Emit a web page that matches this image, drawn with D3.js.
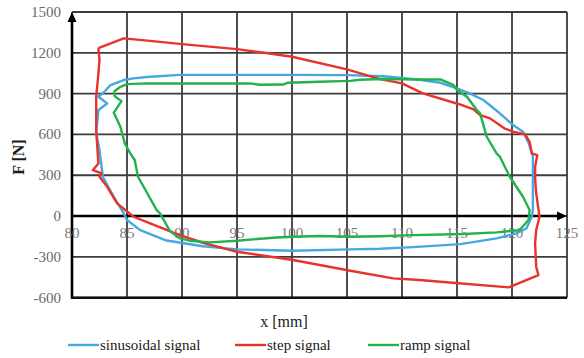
<!DOCTYPE html>
<html><head><meta charset="utf-8">
<script src="https://cdn.jsdelivr.net/npm/d3@7"></script>
<style>body{margin:0;background:#fff}svg{display:block}</style>
</head><body>
<svg id="c" width="584" height="358"></svg>
<script>
const xTicks = [80,85,90,95,100,105,110,115,120,125];
const yTicks = [-600,-300,0,300,600,900,1200,1500];
const seriesNames = ["sinusoidal signal","step signal","ramp signal"];
const seriesColors = ["#45a8e0","#e8322c","#22b24c"];

const sinX = [82.2,82.4,83.2,82.4,82.9,83.5,84.7,85.6,86.8,89.8,95,100,105,108.3,111.6,113.5,115.1,116.2,117.4,118.9,120.1,121,121.5,121.9,121.9,121.9,121.9,121.8,121.3,120.4,118.6,115.3,111,108,105.3,100.1,95,91.9,88.6,86.2,85,84.7,83.8,82.8,82.5,82.2];
const sinF = [608,780,828,877,910,963,1000,1012,1022,1038,1038,1038,1036,1028,1002,980,935,900,853,755,669,620,540,436,265,130,44,-5,-91,-127,-164,-206,-228,-240,-245,-255,-245,-222,-180,-103,-29,20,142,289,485,608];

const stepX = [82.4,84.7,87.1,90,95,97.5,100,105,108,110,111.9,115.2,116.5,117.1,118,119.3,120.1,121.2,121.6,121.8,122.3,122.1,122.1,122.2,122.5,122.2,122.1,122.2,122.4,119.7,113.5,111.6,109.2,105.3,100.1,95,94.4,91.9,89.8,87.1,85.6,84.1,83.2,82.5,82.7,81.9,82.4,82.2,82.2,82.4,82.5,82.4];
const stepF = [1235,1306,1288,1264,1227,1200,1171,1078,1007,975,902,822,784,742,718,645,620,600,546,461,448,362,277,167,-5,-103,-200,-372,-434,-524,-483,-470,-458,-402,-323,-262,-250,-196,-140,-54,-5,93,215,289,314,338,387,632,877,1049,1147,1235];

const rampX = [83.8,84.4,85,86.8,90,96.2,97.1,99.2,99.6,102.5,105.3,106.2,108.3,111.6,113.5,114.7,115,115.9,116.8,117.1,117.7,118.6,118.9,119.8,121,121.6,121.5,120.7,118.6,115.6,111,108,105.3,102.5,100.1,98.6,95,92.5,90.7,89.8,88.9,88,87.7,86,85.7,85.3,84.8,84.4,83.8,84.5,83.9,83.8];
const rampF = [914,950,970,975,975,975,965,967,980,987,994,1002,1008,1004,1005,963,926,877,779,755,583,461,436,289,142,44,-29,-103,-120,-132,-140,-148,-152,-147,-152,-157,-181,-193,-181,-164,-110,20,44,289,412,461,534,656,760,845,880,914];

const svg = d3.select("#c");
const x = d3.scaleLinear().domain([80,125]).range([72,567]);
const y = d3.scaleLinear().domain([-600,1500]).range([297.7,12]);

// grid
svg.append("g").selectAll("line").data(xTicks).join("line")
  .attr("x1",d=>x(d)).attr("x2",d=>x(d)).attr("y1",y(1500)).attr("y2",y(-600))
  .attr("stroke","#3c3c3c").attr("stroke-width",1.8);
svg.append("g").selectAll("line").data(yTicks).join("line")
  .attr("x1",x(80)).attr("x2",x(125)).attr("y1",d=>y(d)).attr("y2",d=>y(d))
  .attr("stroke","#3c3c3c").attr("stroke-width",1.8);

// axes
svg.append("line").attr("x1",x(80)).attr("x2",x(80)).attr("y1",y(-600)+1).attr("y2",y(1500)+6)
  .attr("stroke","#000").attr("stroke-width",2.6);
svg.append("line").attr("x1",x(80)-1).attr("x2",x(125)-6).attr("y1",y(0)).attr("y2",y(0))
  .attr("stroke","#000").attr("stroke-width",2.6);
svg.append("line").attr("x1",x(80)-1).attr("x2",x(125)).attr("y1",y(-600)).attr("y2",y(-600))
  .attr("stroke","#111").attr("stroke-width",2.4);
svg.append("path").attr("d",`M${x(80)},${y(1500)} l-4.5,10 l9,0 z`).attr("fill","#000");
svg.append("path").attr("d",`M${x(125)},${y(0)} l-10,-4.5 l0,9 z`).attr("fill","#000");

// tick labels
svg.append("g").selectAll("text").data(yTicks).join("text")
  .attr("x",61).attr("y",d=>y(d)+5).attr("text-anchor","end")
  .attr("font-family","Liberation Serif").attr("font-size",15).attr("fill","#6a6a6a")
  .text(d=>d);
svg.append("g").selectAll("text").data(xTicks).join("text")
  .attr("x",d=>x(d)).attr("y",y(0)+22).attr("text-anchor","middle")
  .attr("font-family","Liberation Serif").attr("font-size",15).attr("fill","#7a7a7a")
  .text(d=>d);

// series
const line = d3.line().x(d=>x(d[0])).y(d=>y(d[1]));
const series = [[sinX,sinF],[stepX,stepF],[rampX,rampF]];
series.forEach((s,i)=>{
  svg.append("path").datum(d3.zip(s[0],s[1])).attr("d",line)
    .attr("fill","none").attr("stroke",seriesColors[i]).attr("stroke-width",2.4)
    .attr("stroke-linejoin","round");
});

// axis titles
svg.append("text").attr("x",284).attr("y",327).attr("text-anchor","middle")
  .attr("font-family","Liberation Serif").attr("font-size",16).attr("fill","#1a1a1a").text("x [mm]");
svg.append("text").attr("transform","translate(24,157) rotate(-90)").attr("text-anchor","middle")
  .attr("font-family","Liberation Serif").attr("font-size",16).attr("font-weight","bold").attr("fill","#1a1a1a").text("F [N]");

// legend
const legX = [68,235,368];
seriesNames.forEach((n,i)=>{
  svg.append("line").attr("x1",legX[i]).attr("x2",legX[i]+31).attr("y1",345).attr("y2",345)
    .attr("stroke",seriesColors[i]).attr("stroke-width",2.4);
  svg.append("text").attr("x",legX[i]+32).attr("y",350)
    .attr("font-family","Liberation Serif").attr("font-size",15).attr("fill","#1a1a1a").text(n);
});
</script>
</body></html>
